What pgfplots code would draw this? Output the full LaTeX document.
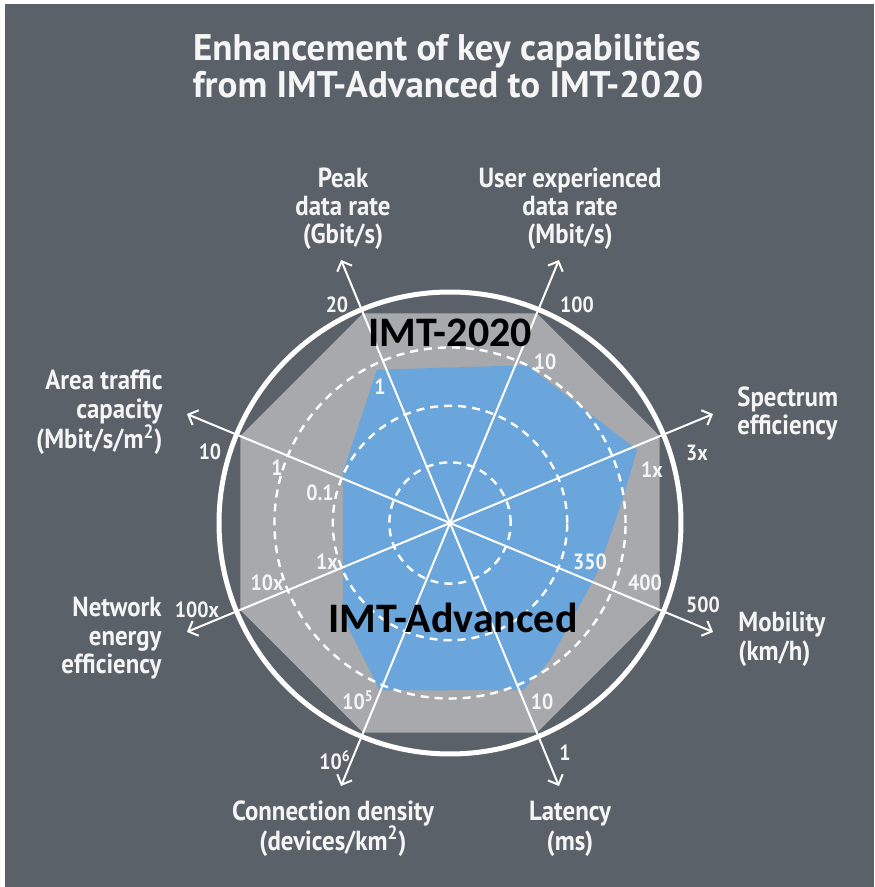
\documentclass[border=0pt]{standalone}
\usepackage{fontspec}
\setmainfont{PT Sans}
\newfontfamily\condfont[FakeStretch=0.9]{PT Sans Bold}
\newfontfamily\imtfont{Carlito}
\usepackage{pgfplots}
\pgfplotsset{compat=1.18}
\usepgfplotslibrary{polar}
\usetikzlibrary{arrows.meta}

\definecolor{bg}{RGB}{91,97,105}
\definecolor{imtgrey}{RGB}{167,169,172}
\definecolor{imtblue}{RGB}{106,165,220}
\definecolor{lbl}{RGB}{245,245,245}

\begin{document}
\begin{tikzpicture}
% frame, 1 px of the reference = 0.5pt, origin at the centre of the radar
\begin{scope}[x=0.5pt,y=-0.5pt]
\fill[white] (-450,-523) rectangle (424,364);
\path[use as bounding box] (-450,-523) rectangle (424,364);
\fill[bg] (-445,-519) rectangle (424,364);
\end{scope}

\begin{polaraxis}[
  at={(0,0)}, anchor=center,
  scale only axis, width=231pt, height=231pt,
  ymin=0, ymax=4, clip=false,
  xtick=\empty, ytick={1.05,2.03,3.04}, yticklabels={},
  ymajorgrids, xmajorgrids=false,
  major grid style={white, line width=1.2pt, dash pattern=on 4pt off 3pt},
  major tick length=0pt,
  separate axis lines,
  y axis line style={draw=none},
  x axis line style={white, line width=2.5pt},
  axis on top,
]
% IMT-2020
\addplot[fill=imtgrey, draw=none] coordinates {
  (22.5,3.93) (67.5,3.93) (112.5,3.93) (157.5,3.93)
  (202.5,3.93) (247.5,3.93) (292.5,3.93) (337.5,3.93)};
% IMT-Advanced
\addplot[fill=imtblue, draw=none] coordinates {
  (115.5,2.94) (64.0,3.04) (21.3,3.48) (5.4,2.96) (-18.8,2.69)
  (-53.9,2.94) (-66.4,3.16) (-112.7,3.14) (-138.7,2.47) (-205.1,2.05)};
% spokes
\pgfplotsinvokeforeach{22.5,67.5,112.5,157.5,202.5,247.5,292.5,337.5}{
  \addplot[white, line width=1pt, -{Straight Barb[length=4pt,width=8pt]}]
    coordinates {(#1,0) (#1,4.93)};
}
\end{polaraxis}

\begin{scope}[x=0.5pt,y=-0.5pt, every node/.style={text=lbl, inner sep=0pt}]
% title
\node[anchor=base, font=\bfseries\fontsize{18.5}{18.5}\selectfont] at (-3,-462) {Enhancement of key capabilities};
\node[anchor=base, font=\bfseries\fontsize{18.5}{18.5}\selectfont] at (-2,-425) {from IMT-Advanced to IMT-2020};
% axis names
\tikzset{nm/.style={font=\condfont\fontsize{13.8}{14}\selectfont}}
\node[nm, anchor=base] at (-107,-335) {Peak};
\node[nm, anchor=base] at (-107,-307) {data rate};
\node[nm, anchor=base] at (-107,-279) {(Gbit/s)};
\node[nm, anchor=base] at (120,-335) {User experienced};
\node[nm, anchor=base] at (120,-307) {data rate};
\node[nm, anchor=base] at (120,-279) {(Mbit/s)};
\node[nm, anchor=base west] at (287,-116) {Spectrum};
\node[nm, anchor=base west] at (287,-88) {efficiency};
\node[nm, anchor=base west] at (288,109) {Mobility};
\node[nm, anchor=base west] at (288,137) {(km/h)};
\node[nm, anchor=base] at (120,297) {Latency};
\node[nm, anchor=base] at (120,327) {(ms)};
\node[nm, anchor=base] at (-117,297) {Connection density};
\node[nm, anchor=base] at (-117,327) {(devices/km\textsuperscript{2})};
\node[nm, anchor=base east] at (-288,94) {Network};
\node[nm, anchor=base east] at (-288,122) {energy};
\node[nm, anchor=base east] at (-288,150) {efficiency};
\node[nm, anchor=base east] at (-287,-133) {Area traffic};
\node[nm, anchor=base east] at (-287,-104) {capacity};
\node[nm, anchor=base east] at (-287,-74) {(Mbit/s/m\textsuperscript{2})};
% scale values
\tikzset{tk/.style={font=\condfont\fontsize{11}{11}\selectfont}}
\node[tk] at (-113,-218) {20};
\node[tk] at (-70,-136) {1};
\node[tk] at (127,-218) {100};
\node[tk] at (95,-161) {10};
\node[tk] at (247,-70) {3x};
\node[tk] at (202,-53) {1x};
\node[tk] at (253,82) {500};
\node[tk] at (195,60) {400};
\node[tk] at (140,39) {350};
\node[tk] at (115,230) {1};
\node[tk] at (92,179) {10};
\node[tk] at (-115,237) {10\textsuperscript{6}};
\node[tk] at (-92,177) {10\textsuperscript{5}};
\node[tk] at (-253,87) {100x};
\node[tk] at (-183,60) {10x};
\node[tk] at (-123,39) {1x};
\node[tk] at (-240,-71) {10};
\node[tk] at (-173,-55) {1};
\node[tk] at (-130,-30) {0.1};
% series names
\node[anchor=base, text=black, font=\imtfont\bfseries\fontsize{21}{21}\selectfont] at (0,-176) {IMT-2020};
\node[anchor=base, text=black, font=\imtfont\bfseries\fontsize{21}{21}\selectfont] at (3,110) {IMT-Advanced};
\end{scope}
\end{tikzpicture}
\end{document}
